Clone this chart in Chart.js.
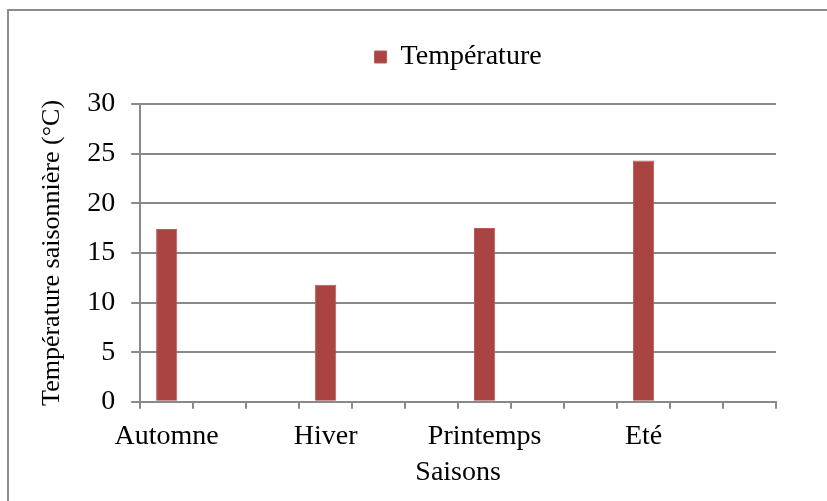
<!DOCTYPE html>
<html>
<head>
<meta charset="utf-8">
<script src="https://cdn.jsdelivr.net/npm/chart.js@4"></script>
<style>
    body { margin: 0; background: #fff; }
    #wrap { position: relative; width: 827px; height: 501px; }
    #frame { position: absolute; left: 7px; top: 9px; right: -5px; bottom: -5px; border-left: 2px solid #8c8c8c; border-top: 2px solid #8c8c8c; pointer-events: none; }
</style>
</head>
<body>
<div id="wrap">
    <canvas id="seasonChart" width="827" height="501"></canvas>
    <div id="frame"></div>
</div>
<script>
    // 12 slots on the axis, only one bar per season
    const categories = ['Automne', '', '', 'Hiver', '', '', 'Printemps', '', '', 'Eté', '', ''];
    const temperatures = [17.4, null, null, 11.8, null, null, 17.5, null, null, 24.3, null, null];
    const yTicks = [0, 5, 10, 15, 20, 25, 30];

    const serif = "'Liberation Serif', 'Times New Roman', serif";
    const gridGray = '#898989';

    // legend centered over the plot area and lifted a bit above it
    const legendOnPlot = {
        id: 'legendOnPlot',
        afterLayout(chart) {
            const lg = chart.legend;
            lg.left = chart.chartArea.left;
            lg.right = chart.chartArea.right;
            lg.top -= 23;
            lg.bottom -= 23;
        }
    };

    new Chart(document.getElementById('seasonChart'), {
        type: 'bar',
        data: {
            labels: categories,
            datasets: [{
                label: 'Température',
                data: temperatures,
                backgroundColor: '#a94442',
                borderColor: '#b95a58',
                borderWidth: 1,
                categoryPercentage: 1.0,
                barPercentage: 0.4
            }]
        },
        options: {
            responsive: false,
            animation: false,
            layout: { padding: { top: 34, left: 33, right: 51, bottom: 12 } },
            plugins: {
                legend: {
                    position: 'top',
                    labels: {
                        boxWidth: 12,
                        boxHeight: 12,
                        padding: 32,
                        color: '#000',
                        font: { family: serif, size: 28 }
                    }
                },
                tooltip: { enabled: false }
            },
            scales: {
                x: {
                    offset: true,
                    grid: { offset: true, drawOnChartArea: false, color: gridGray, lineWidth: 2, tickLength: 7 },
                    border: { color: gridGray, width: 2 },
                    ticks: { autoSkip: false, maxRotation: 0, color: '#000', padding: 11, font: { family: serif, size: 28 } },
                    title: { display: true, text: 'Saisons', color: '#000', padding: { top: -9, bottom: 0 }, font: { family: serif, size: 28 } }
                },
                y: {
                    min: 0,
                    max: 30,
                    afterBuildTicks(scale) { scale.ticks = yTicks.map(v => ({ value: v })); },
                    grid: { color: gridGray, lineWidth: 2, tickLength: 9 },
                    border: { color: gridGray, width: 2 },
                    ticks: { color: '#000', padding: 16, font: { family: serif, size: 28 } },
                    title: { display: true, text: 'Température saisonnière (°C)', color: '#000', padding: { bottom: 3 }, font: { family: serif, size: 26 } }
                }
            }
        },
        plugins: [legendOnPlot]
    });
</script>
</body>
</html>
